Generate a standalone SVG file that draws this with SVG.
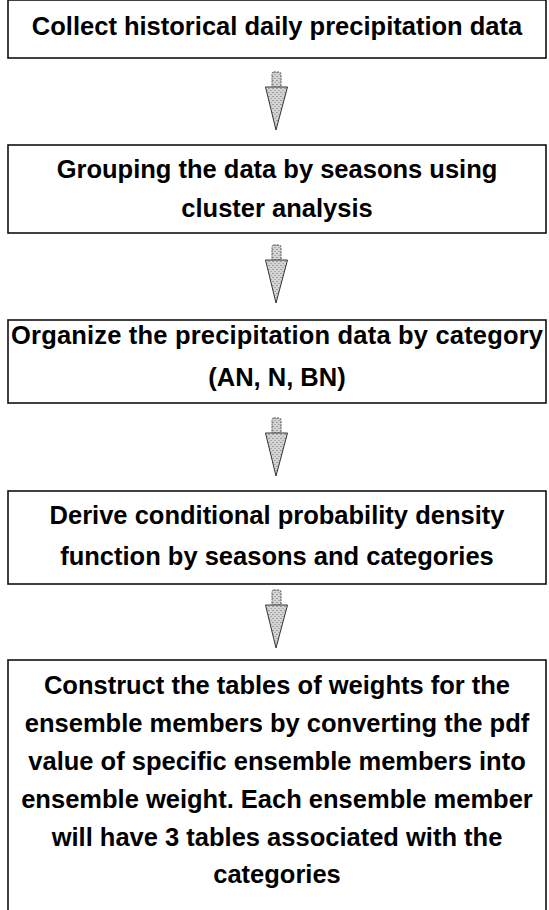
<svg xmlns="http://www.w3.org/2000/svg" width="549" height="910" viewBox="0 0 549 910">
<defs>
<pattern id="stip" width="4" height="4" patternUnits="userSpaceOnUse">
<rect width="4" height="4" fill="#d4d4d4"/>
<rect x="0" y="0" width="1" height="1" fill="#666"/>
<rect x="2" y="2" width="1" height="1" fill="#888"/>
</pattern>
<g id="arrow">
<rect x="-4.5" y="0" width="9" height="17" rx="2" fill="url(#stip)" stroke="#555" stroke-width="1" stroke-dasharray="2 1"/>
<path d="M-11,15 L11,15 L-0.5,58 Z" fill="url(#stip)" stroke="#333" stroke-width="1" stroke-linejoin="miter"/>
</g>
</defs>
<style>
.box{fill:#fff;stroke:#111;stroke-width:1.6}
.t{font-family:"Liberation Sans",Arial,sans-serif;font-weight:bold;font-size:25.5px;fill:#000;text-anchor:middle}
</style>
<rect width="549" height="910" fill="#fff"/>
<g id="connectors">
<use href="#arrow" x="276.5" y="72"/>
<use href="#arrow" x="276.5" y="245"/>
<use href="#arrow" x="276.5" y="418"/>
<use href="#arrow" x="276.5" y="590"/>
</g>
<g id="n1">
<rect class="box" x="8" y="0" width="538" height="58"/>
<text class="t" x="277" y="35">Collect historical daily precipitation data</text>
</g>
<g id="n2">
<rect class="box" x="8" y="145" width="538" height="88"/>
<text class="t" x="277" y="178">Grouping the data by seasons using</text>
<text class="t" x="277" y="217">cluster analysis</text>
</g>
<g id="n3">
<rect class="box" x="8" y="320" width="538" height="83"/>
<text class="t" x="277" y="344" textLength="532" lengthAdjust="spacing">Organize the precipitation data by category</text>
<text class="t" x="277" y="386">(AN, N, BN)</text>
</g>
<g id="n4">
<rect class="box" x="8" y="491" width="538" height="93"/>
<text class="t" x="277" y="524">Derive conditional probability density</text>
<text class="t" x="277" y="565">function by seasons and categories</text>
</g>
<g id="n5">
<rect class="box" x="8" y="660" width="538" height="260"/>
<text class="t" x="277" y="694">Construct the tables of weights for the</text>
<text class="t" x="277" y="732">ensemble members by converting the pdf</text>
<text class="t" x="277" y="770">value of specific ensemble members into</text>
<text class="t" x="277" y="808">ensemble weight. Each ensemble member</text>
<text class="t" x="277" y="846">will have 3 tables associated with the</text>
<text class="t" x="277" y="883">categories</text>
</g>
</svg>
